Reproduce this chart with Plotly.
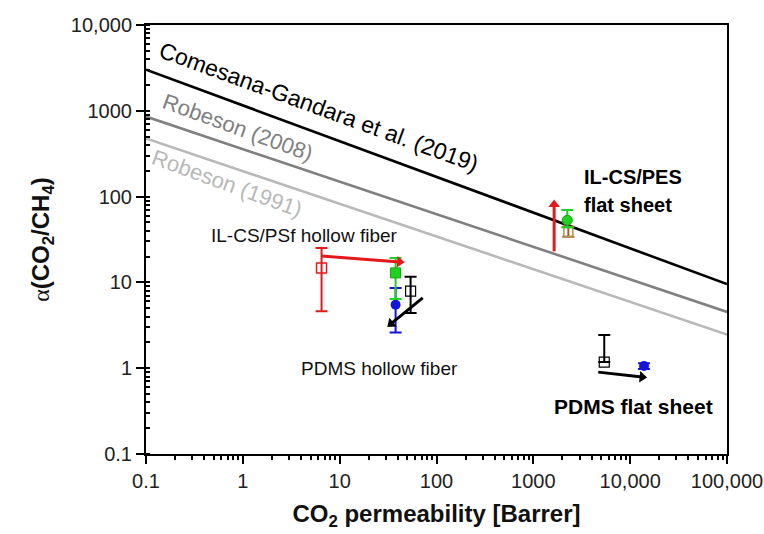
import numpy as np
import plotly.graph_objects as go

# ---------------- data ----------------
# upper-bound lines (CO2 permeability, selectivity)
bound_x = [0.1, 100000]
comesana_2019 = [3016, 9.56]
robeson_2008 = [857, 4.53]
robeson_1991 = [476, 2.47]

# red open squares (IL-CS/PSf hollow fiber)
red_x = [6.5]
red_y = [14.7]
red_plus = [10.5]
red_minus = [10.1]

# olive open square (IL-CS/PES flat sheet)
olive_x = [2300]
olive_y = [38.6]
olive_plus = [6.0]
olive_minus = [4.6]

# green filled markers
green_x = [37.8, 2240]
green_y = [12.9, 53]
green_plus = [6.3, 17]
green_minus = [6.5, 9]
green_symbols = ["square", "circle"]

# blue filled circles
blue_x = [37.8, 13900]
blue_y = [5.5, 1.06]
blue_plus = [3.1, 0.08]
blue_minus = [2.9, 0.08]

# black open squares
black_x = [54, 5400]
black_y = [7.9, 1.18]
black_plus = [3.7, 1.26]
black_minus = [3.5, 0.0]

# arrows: (x_from, y_from) -> (x_to, y_to)
red_arrows = [((6.5, 20.3), (41.6, 17.3)), ((1640, 23), (1640, 81))]
black_arrows = [((72, 6.6), (34, 3.3)), ((4680, 0.90), (13300, 0.79))]

RED = "#e3191c"
GREEN = "#1fd21f"
BLUE = "#1414dc"
BLACK = "#000000"
OLIVE = "#a39a4c"

fig = go.Figure()

# upper bounds
for yv, col in [(robeson_1991, "#b8b8b8"), (robeson_2008, "#808080"), (comesana_2019, "#000000")]:
    fig.add_trace(go.Scatter(x=bound_x, y=yv, mode="lines",
                             line=dict(color=col, width=2.6), hoverinfo="skip"))

def err(color, plus, minus):
    return dict(type="data", symmetric=False, array=plus, arrayminus=minus,
                color=color, thickness=2, width=6)

fig.add_trace(go.Scatter(x=red_x, y=red_y, mode="markers",
                         marker=dict(symbol="square-open", size=10, color=RED, line=dict(width=1.5)),
                         error_y=err(RED, red_plus, red_minus)))
fig.add_trace(go.Scatter(x=olive_x, y=olive_y, mode="markers",
                         marker=dict(symbol="square-open", size=9, color=OLIVE, line=dict(width=1.5)),
                         error_y=err("#c0502a", olive_plus, olive_minus)))
fig.add_trace(go.Scatter(x=black_x, y=black_y, mode="markers",
                         marker=dict(symbol="square-open", size=10, color=BLACK, line=dict(width=1.2)),
                         error_y=err(BLACK, black_plus, black_minus)))
fig.add_trace(go.Scatter(x=blue_x, y=blue_y, mode="markers",
                         marker=dict(symbol="circle", size=10, color=BLUE),
                         error_y=err(BLUE, blue_plus, blue_minus)))
fig.add_trace(go.Scatter(x=green_x, y=green_y, mode="markers",
                         marker=dict(symbol=green_symbols, size=10, color=GREEN,
                                     line=dict(color="#14a014", width=1)),
                         error_y=err(GREEN, green_plus, green_minus)))

for arrows, col in [(red_arrows, RED), (black_arrows, BLACK)]:
    for (x0, y0), (x1, y1) in arrows:
        fig.add_trace(go.Scatter(x=[x0, x1], y=[y0, y1], mode="lines+markers",
                                 line=dict(color=col, width=3),
                                 marker=dict(symbol="triangle-up", size=[0, 10], color=col,
                                             angleref="previous", opacity=1,
                                             line=dict(width=0))))

# ---------------- text ----------------
FONT = "Liberation Sans, Arial, sans-serif"
ann = [
    dict(text="Comesana-Gandara et al. (2019)", x=0.79, y=3.04, color="#000000", size=23, angle=20),
    dict(text="Robeson (2008)", x=-0.05, y=2.81, color="#808080", size=22, angle=20),
    dict(text="Robeson (1991)", x=-0.16, y=2.15, color="#b8b8b8", size=22, angle=20),
    dict(text="IL-CS/PSf hollow fiber", x=0.64, y=1.55, color="#111111", size=19, angle=0),
    dict(text="PDMS hollow fiber", x=1.41, y=0.0, color="#111111", size=19, angle=0),
]
for a in ann:
    fig.add_annotation(x=a["x"], y=a["y"], xref="x", yref="y", text=a["text"], showarrow=False,
                       textangle=a["angle"], font=dict(family=FONT, size=a["size"], color=a["color"]))

for txt, xx, yy, sz in [("IL-CS/PES", 3.50, 2.23, 20), ("flat sheet", 3.50, 1.90, 20),
                        ("PDMS flat sheet", 3.19, -0.45, 21)]:
    fig.add_annotation(x=xx, y=yy, xref="x", yref="y", xanchor="left",
                       text="<b>" + txt + "</b>", showarrow=False,
                       font=dict(family=FONT, size=sz, color="#000"))

x_ticks = [0.1, 1, 10, 100, 1000, 10000, 100000]
x_labels = ["0.1", "1", "10", "100", "1000", "10,000", "100,000"]
y_ticks = [0.1, 1, 10, 100, 1000, 10000]
y_labels = ["0.1", "1", "10", "100", "1000", "10,000"]

fig.update_layout(
    width=764, height=534,
    margin=dict(l=146, r=37, t=25, b=80),
    paper_bgcolor="white", plot_bgcolor="white",
    showlegend=False,
    font=dict(family=FONT, size=20, color="#222"),
    xaxis=dict(type="log", range=[-1, 5], tickvals=x_ticks, ticktext=x_labels, automargin=False,
               showline=True, mirror=True, linecolor="black", linewidth=2,
               ticks="outside", ticklen=8, tickwidth=1.5, tickcolor="black",
               showgrid=False, zeroline=False,
               minor=dict(dtick="D1", ticks="outside", ticklen=4, tickcolor="black", showgrid=False),
               title=dict(text="<b>CO<sub>2</sub> permeability [Barrer]</b>",
                          font=dict(size=24, color="#111"), standoff=14)),
    yaxis=dict(type="log", range=[-1, 4], tickvals=y_ticks, ticktext=y_labels, automargin=False,
               showline=True, mirror=True, linecolor="black", linewidth=2,
               ticks="outside", ticklen=8, tickwidth=1.5, tickcolor="black",
               showgrid=False, zeroline=False,
               minor=dict(dtick="D1", ticks="inside", ticklen=4, tickcolor="black", showgrid=False),
               title=dict(text="<span style=\"font-family:'Liberation Serif',serif;font-weight:normal\">α</span>"
                               "<b>(CO<sub>2</sub>/CH<sub>4</sub>)</b>",
                          font=dict(size=24, color="#111"), standoff=14)),
)

fig.write_html("out.html")
